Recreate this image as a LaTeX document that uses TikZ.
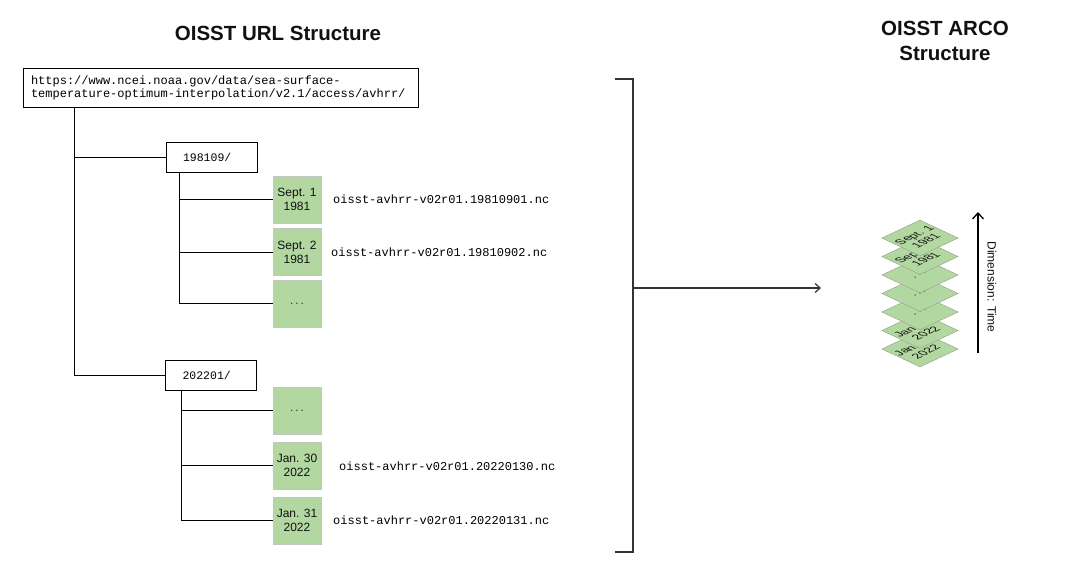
\documentclass[tikz,border=0pt]{standalone}
\usepackage{fontspec}
\setmainfont{Liberation Sans}
\setmonofont{Liberation Mono}
\usetikzlibrary{arrows.meta}
\definecolor{gbox}{HTML}{B3D7A0}
\definecolor{gedge}{HTML}{C4C4C4}
\definecolor{ledge}{HTML}{98A890}
\definecolor{ink}{HTML}{111111}
\definecolor{darkline}{HTML}{333333}
\newcommand\arcolayer[3]{%
  \begin{scope}[shift={(920,#1)},yscale=0.47,rotate=45]
    \draw[ledge,line width=0.5pt,fill=gbox] (-26.9,-26.9) rectangle (26.9,26.9);
    \node[layertext,transform shape] (#2) at (0,0) {#3};
  \end{scope}}
\begin{document}
\begin{tikzpicture}[x=1pt,y=-1pt,
  treeline/.style={draw=black,line width=1pt},
  titletext/.style={font=\fontsize{20.5}{24}\selectfont\bfseries,text=ink,inner sep=0pt},
  urlbox/.style={draw=black,line width=1pt,rectangle,minimum width=395pt,minimum height=39pt,
    inner xsep=8pt,inner ysep=0pt,text width=379pt,align=left,font=\ttfamily\fontsize{12}{13}\selectfont},
  dirbox/.style={draw=black,line width=1pt,rectangle,minimum width=91pt,minimum height=30pt,
    inner xsep=17pt,inner ysep=0pt,text width=57pt,align=left,font=\ttfamily\fontsize{11.5}{13}\selectfont},
  daybox/.style={draw=gedge,line width=0.6pt,fill=gbox,rectangle,minimum width=48pt,minimum height=47pt,
    inner sep=0pt,align=center,font=\fontsize{12}{14}\selectfont,text=ink},
  dotsbox/.style={daybox,text=darkline},
  fname/.style={anchor=west,inner sep=0pt,font=\ttfamily\fontsize{12}{14}\selectfont},
  layertext/.style={inner sep=0pt,align=center,font=\fontsize{15}{16.5}\selectfont,text=ink},
  bracketline/.style={draw=darkline,line width=1.3pt},
  arrowline/.style={draw=darkline,line width=1.3pt,-{Straight Barb[length=5pt,width=9pt,line width=1.2pt]}},
  dimarrow/.style={draw=black,line width=1.4pt,-{Straight Barb[length=6pt,width=11pt,line width=1.3pt]}}
]
\useasboundingbox[fill=white] (0,0) rectangle (1090,576);

% titles
\node[titletext] (title1) at (278,33) {OISST URL Structure};
\node[titletext,align=center,font=\fontsize{20.5}{24.5}\selectfont\bfseries] (title2) at (945,41) {OISST ARCO\\Structure};

% URL tree
\node[urlbox] (url) at (220.5,87.5) {https://www.ncei.noaa.gov/data/sea-surface-\\temperature-optimum-interpolation/v2.1/access/avhrr/};
\node[dirbox] (d1) at (211.5,157) {198109/};
\node[dirbox] (d2) at (211,375.5) {202201/};

\node[daybox] (g1) at (297,199.5) {Sept. 1\\1981};
\node[daybox] (g2) at (297,252) {Sept. 2\\1981};
\node[dotsbox] (g3) at (297,303.5) {.\,.\,.};
\node[dotsbox] (g4) at (297,410.5) {.\,.\,.};
\node[daybox] (g5) at (297,465.5) {Jan. 30\\2022};
\node[daybox] (g6) at (297,520.5) {Jan. 31\\2022};

\node[fname] (f1) at (333,199) {oisst-avhrr-v02r01.19810901.nc};
\node[fname] (f2) at (331,252) {oisst-avhrr-v02r01.19810902.nc};
\node[fname] (f3) at (339,466) {oisst-avhrr-v02r01.20220130.nc};
\node[fname] (f4) at (333,520) {oisst-avhrr-v02r01.20220131.nc};

\coordinate (t0) at ([xshift=52pt]url.south west);
\draw[treeline] (t0) |- (d2.west);
\draw[treeline] (t0 |- d1.west) -- (d1.west);

\coordinate (s1) at ([xshift=14pt]d1.south west);
\draw[treeline] (s1) |- (g3.west);
\draw[treeline] (s1 |- g1.west) -- (g1.west);
\draw[treeline] (s1 |- g2.west) -- (g2.west);

\coordinate (s2) at ([xshift=16pt]d2.south west);
\draw[treeline] (s2) |- (g6.west);
\draw[treeline] (s2 |- g4.west) -- (g4.west);
\draw[treeline] (s2 |- g5.west) -- (g5.west);

% bracket and arrow
\coordinate (bt1) at (615,79);
\coordinate (bt2) at (633,79);
\coordinate (bb2) at (633,552);
\coordinate (bb1) at (615,552);
\draw[bracketline] (bt1) -- (bt2) -- (bb2) -- (bb1);
\coordinate (am) at (633,288);
\coordinate (ae) at (821,288);
\draw[arrowline] (am) -- (ae);

% ARCO stack (bottom layer first)
\arcolayer{349}{l7}{Jan. 31\\2022}
\arcolayer{330.5}{l6}{Jan. 30\\2022}
\arcolayer{312}{l5}{.\,.\,.}
\arcolayer{293.5}{l4}{.\,.\,.}
\arcolayer{275}{l3}{.\,.\,.}
\arcolayer{256.5}{l2}{Sept. 2\\1981}
\arcolayer{238}{l1}{Sept. 1\\1981}

% time dimension
\coordinate (dlo) at (978,353);
\coordinate (dhi) at (978,212);
\draw[dimarrow] (dlo) -- (dhi);
\node[rotate=-90,inner sep=0pt,font=\fontsize{12}{14}\selectfont,text=ink] (dimlabel) at (992,287) {Dimension: Time};
\end{tikzpicture}
\end{document}
